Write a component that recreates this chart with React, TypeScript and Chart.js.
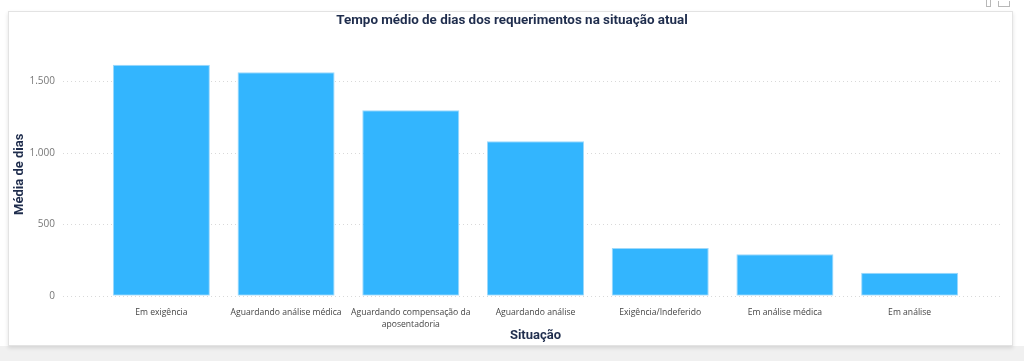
import React, { useEffect, useRef } from "react";
import { Chart, registerables } from "chart.js";

Chart.register(...registerables);

const TITLE = "Tempo médio de dias dos requerimentos na situação atual";
const X_TITLE = "Situação";
const Y_TITLE = "Média de dias";
const categories: (string | string[])[] = [
  "Em exigência",
  "Aguardando análise médica",
  ["Aguardando compensação da", "aposentadoria"],
  "Aguardando análise",
  "Exigência/Indeferido",
  "Em análise médica",
  "Em análise",
];
const values = [1617, 1564, 1297, 1080, 334, 290, 161];
const yTickValues = [0, 500, 1000, 1500];
const Y_MAX = 1700;

const fmt = (v: number) => v.toLocaleString("pt-BR");

const gridPlugin = {
  id: "extendedGrid",
  beforeDatasetsDraw(chart: any) {
    const { ctx, chartArea, scales } = chart;
    const y = scales.y;
    ctx.save();
    ctx.strokeStyle = "#d9d9d9";
    ctx.lineWidth = 1;
    ctx.setLineDash([1, 3]);
    yTickValues.forEach((v) => {
      const py = Math.round(y.getPixelForValue(v)) + 0.5;
      ctx.beginPath();
      ctx.moveTo(chartArea.left - 36, py);
      ctx.lineTo(chartArea.right + 28, py);
      ctx.stroke();
    });
    ctx.restore();
  },
};

export default function App() {
  const ref = useRef<HTMLCanvasElement>(null);

  useEffect(() => {
    if (!ref.current) return;
    const chart = new Chart(ref.current, {
      type: "bar",
      data: {
        labels: categories as any,
        datasets: [
          {
            data: values,
            backgroundColor: "#33B5FE",
            borderColor: "#9dd9fb",
            borderWidth: 1,
            borderSkipped: false,
            categoryPercentage: 1,
            barPercentage: 0.778,
          },
        ],
      },
      options: {
        animation: false,
        responsive: false,
        maintainAspectRatio: false,
        layout: { padding: { left: 0, right: 0, top: 0, bottom: 13 } },
        plugins: {
          legend: { display: false },
          tooltip: { enabled: false },
          title: {
            display: true,
            text: TITLE,
            color: "#1f2d4d",
            font: { family: "'Roboto', sans-serif", size: 13.4, weight: "bold", lineHeight: 1.2 },
            padding: { top: 13, bottom: 23.7 },
          },
        },
        scales: {
          x: {
            grid: { display: false, drawTicks: false },
            border: { display: false },
            ticks: {
              color: "#444444",
              padding: 11,
              maxRotation: 0,
              autoSkip: false,
              font: { family: "'Open Sans', sans-serif", size: 8.6, lineHeight: 1.42 },
            },
            title: {
              display: true,
              text: X_TITLE,
              color: "#1f2d4d",
              font: { family: "'Roboto', sans-serif", size: 13, weight: "bold", lineHeight: 1.2 },
              padding: { top: 4, bottom: 4 },
            },
            afterFit(scale: any) {
              scale.height = 52.3;
            },
          },
          y: {
            min: 0,
            max: Y_MAX,
            grid: { display: false, drawTicks: false },
            border: { display: false },
            afterBuildTicks(scale: any) {
              scale.ticks = yTickValues.map((v) => ({ value: v }));
            },
            ticks: {
              color: "#777777",
              padding: 44,
              font: { family: "'Open Sans', sans-serif", size: 10 },
              callback: (v: any) => fmt(Number(v)),
            },
            title: {
              display: true,
              text: Y_TITLE,
              color: "#1f2d4d",
              font: { family: "'Roboto', sans-serif", size: 13, weight: "bold", lineHeight: 1.2 },
              padding: { top: 12, bottom: 4 },
            },
            afterFit(scale: any) {
              scale.width = 99;
            },
          },
          yRight: {
            position: "right",
            display: true,
            grid: { display: false, drawTicks: false },
            border: { display: false },
            ticks: { display: false },
            afterFit(scale: any) {
              scale.width = 52;
            },
          },
        },
      },
      plugins: [gridPlugin],
    });
    return () => chart.destroy();
  }, []);

  return (
    <div
      style={{
        position: "fixed",
        left: 0,
        top: 0,
        width: 1024,
        height: 361,
        background: "#ffffff",
        overflow: "hidden",
      }}
    >
      <div style={{ position: "absolute", left: 0, top: 346, width: 1024, height: 15, background: "#f0f0f0" }} />
      <div
        style={{
          position: "absolute",
          left: 8,
          top: 11,
          width: 1003,
          height: 333,
          background: "#ffffff",
          border: "1px solid #e3e3e3",
          boxShadow: "0 2px 4px rgba(0,0,0,0.12)",
        }}
      />
      <div style={{ position: "absolute", left: 986, top: 0, width: 3, height: 6, border: "1px solid #b8b8b8", borderTop: "none" }} />
      <div style={{ position: "absolute", left: 998, top: 1, width: 10, height: 5, border: "1px solid #b8b8b8", borderTop: "none" }} />
      <canvas ref={ref} width={1024} height={361} style={{ position: "absolute", left: 0, top: 0, width: 1024, height: 361 }} />
    </div>
  );
}
